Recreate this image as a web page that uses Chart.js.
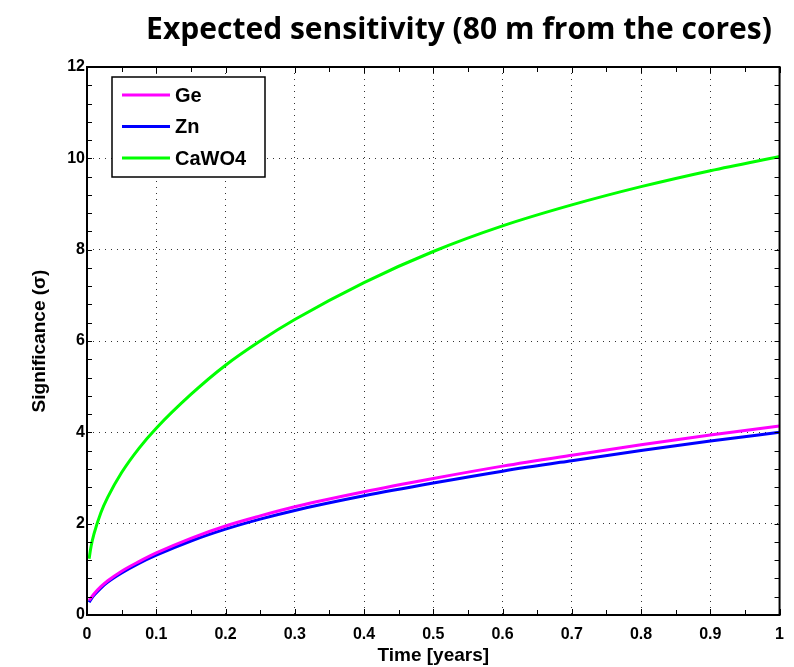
<!DOCTYPE html>
<html>
<head>
<meta charset="utf-8">
<script src="https://cdn.jsdelivr.net/npm/chart.js@4/dist/chart.umd.min.js"></script>
<style>
  html, body { margin: 0; padding: 0; background: #fff; }
  #wrap { width: 794px; height: 667px; position: relative; }
</style>
</head>
<body>
<div id="wrap"><canvas id="chart" width="794" height="667"></canvas></div>
<script>
// time axis (years) and significance values
const timeYears = [0.003, 0.006, 0.01, 0.02, 0.03, 0.05, 0.075, 0.1, 0.15, 0.2, 0.25, 0.3, 0.4, 0.5, 0.6, 0.7, 0.8, 0.9, 1.0];
const geSigma    = [0.32, 0.38, 0.46, 0.62, 0.75, 0.96, 1.17, 1.36, 1.68, 1.95, 2.17, 2.37, 2.70, 2.99, 3.26, 3.50, 3.73, 3.94, 4.14];
const znSigma    = [0.28, 0.35, 0.43, 0.59, 0.72, 0.92, 1.13, 1.31, 1.62, 1.88, 2.10, 2.29, 2.61, 2.89, 3.15, 3.38, 3.60, 3.81, 4.00];
const cawo4Sigma = [1.23, 1.51, 1.77, 2.24, 2.58, 3.12, 3.65, 4.09, 4.83, 5.47, 6.00, 6.47, 7.28, 7.96, 8.52, 8.98, 9.38, 9.73, 10.04];

const seriesNames = ['Ge', 'Zn', 'CaWO4'];
const seriesColors = ['#ff00ff', '#0000ff', '#00ff00'];
const xTicks = [0, 0.1, 0.2, 0.3, 0.4, 0.5, 0.6, 0.7, 0.8, 0.9, 1];
const yTicks = [0, 2, 4, 6, 8, 10, 12];

const FONT = '"Liberation Sans", Arial, sans-serif';

function toPoints(ys) {
    return timeYears.map((t, i) => ({ x: t, y: ys[i] }));
}

// MATLAB-like box, inner ticks, legend and title
const matlabStyle = {
    id: 'matlabStyle',
    afterDraw(chart) {
        const ctx = chart.ctx;
        const a = chart.chartArea;
        const xs = chart.scales.x, ys = chart.scales.y;
        ctx.save();
        ctx.strokeStyle = '#000';
        ctx.lineWidth = 1;
        // ticks on all four sides, pointing inward
        ctx.beginPath();
        for (let v = 0; v <= 1.0001; v += 0.05) {
            const px = Math.round(xs.getPixelForValue(v)) + 0.5;
            const len = (Math.round(v * 100) % 10 === 0) ? 6 : 5;
            ctx.moveTo(px, a.bottom); ctx.lineTo(px, a.bottom - len);
            ctx.moveTo(px, a.top); ctx.lineTo(px, a.top + len);
        }
        for (let v = 0; v <= 12.0001; v += 0.4) {
            const py = Math.round(ys.getPixelForValue(v)) + 0.5;
            ctx.moveTo(a.left, py); ctx.lineTo(a.left + 5, py);
            ctx.moveTo(a.right, py); ctx.lineTo(a.right - 5, py);
        }
        ctx.stroke();
        // box
        ctx.lineWidth = 2;
        ctx.strokeRect(a.left, a.top, a.right - a.left, a.bottom - a.top);

        // legend
        const lx = 112, ly = 77, lw = 153, lh = 100;
        ctx.fillStyle = '#fff';
        ctx.fillRect(lx, ly, lw, lh);
        ctx.lineWidth = 1.5;
        ctx.strokeRect(lx, ly, lw, lh);
        ctx.font = 'bold 20px ' + FONT;
        ctx.textBaseline = 'middle';
        chart.data.datasets.forEach((ds, i) => {
            const y = 95 + i * 31.5;
            ctx.strokeStyle = ds.borderColor;
            ctx.lineWidth = 3;
            ctx.beginPath();
            ctx.moveTo(122, y); ctx.lineTo(170, y);
            ctx.stroke();
            ctx.fillStyle = '#000';
            ctx.fillText(ds.label, 175, y + 1);
        });

        // title
        ctx.font = 'bold 30px "Open Sans", sans-serif';
        ctx.textAlign = 'center';
        ctx.textBaseline = 'middle';
        ctx.fillStyle = '#000';
        ctx.fillText('Expected sensitivity (80 m from the cores)', 459, 30);
        ctx.restore();
    }
};

const gridOpts = {
    color: '#333',
    lineWidth: 1,
    drawTicks: false
};

const ctx = document.getElementById('chart').getContext('2d');
new Chart(ctx, {
    type: 'line',
    data: {
        datasets: [geSigma, znSigma, cawo4Sigma].map((ys, i) => ({
            label: seriesNames[i],
            data: toPoints(ys),
            borderColor: seriesColors[i],
            backgroundColor: seriesColors[i],
            borderWidth: 3,
            pointRadius: 0,
            fill: false,
            cubicInterpolationMode: 'monotone'
        }))
    },
    options: {
        responsive: false,
        animation: false,
        layout: { padding: { top: 67, right: 12, left: 0, bottom: 0 } },
        plugins: {
            legend: { display: false },
            title: { display: false },
            tooltip: { enabled: false }
        },
        scales: {
            x: {
                type: 'linear',
                min: 0,
                max: 1,
                afterFit(scale) { scale.height = 52; },
                afterBuildTicks(scale) { scale.ticks = xTicks.map(v => ({ value: v })); },
                grid: gridOpts,
                border: { display: false, dash: [1, 5] },
                ticks: {
                    padding: 10,
                    maxRotation: 0,
                    autoSkip: false,
                    color: '#000',
                    font: { family: FONT, size: 16, weight: 'bold' },
                    callback: v => String(v)
                },
                title: {
                    display: true,
                    text: 'Time [years]',
                    color: '#000',
                    font: { family: FONT, size: 19, weight: 'bold' },
                    padding: { top: 0, bottom: 0 }
                }
            },
            y: {
                type: 'linear',
                min: 0,
                max: 12,
                afterFit(scale) { scale.width = 87; },
                afterBuildTicks(scale) { scale.ticks = yTicks.map(v => ({ value: v })); },
                grid: gridOpts,
                border: { display: false, dash: [1, 5] },
                ticks: {
                    padding: 2,
                    autoSkip: false,
                    color: '#000',
                    font: { family: FONT, size: 16, weight: 'bold' }
                },
                title: {
                    display: true,
                    text: 'Significance (σ)',
                    color: '#000',
                    font: { family: FONT, size: 19, weight: 'bold' },
                    padding: { top: 28, bottom: 0 }
                }
            }
        }
    },
    plugins: [matlabStyle]
});
</script>
</body>
</html>
